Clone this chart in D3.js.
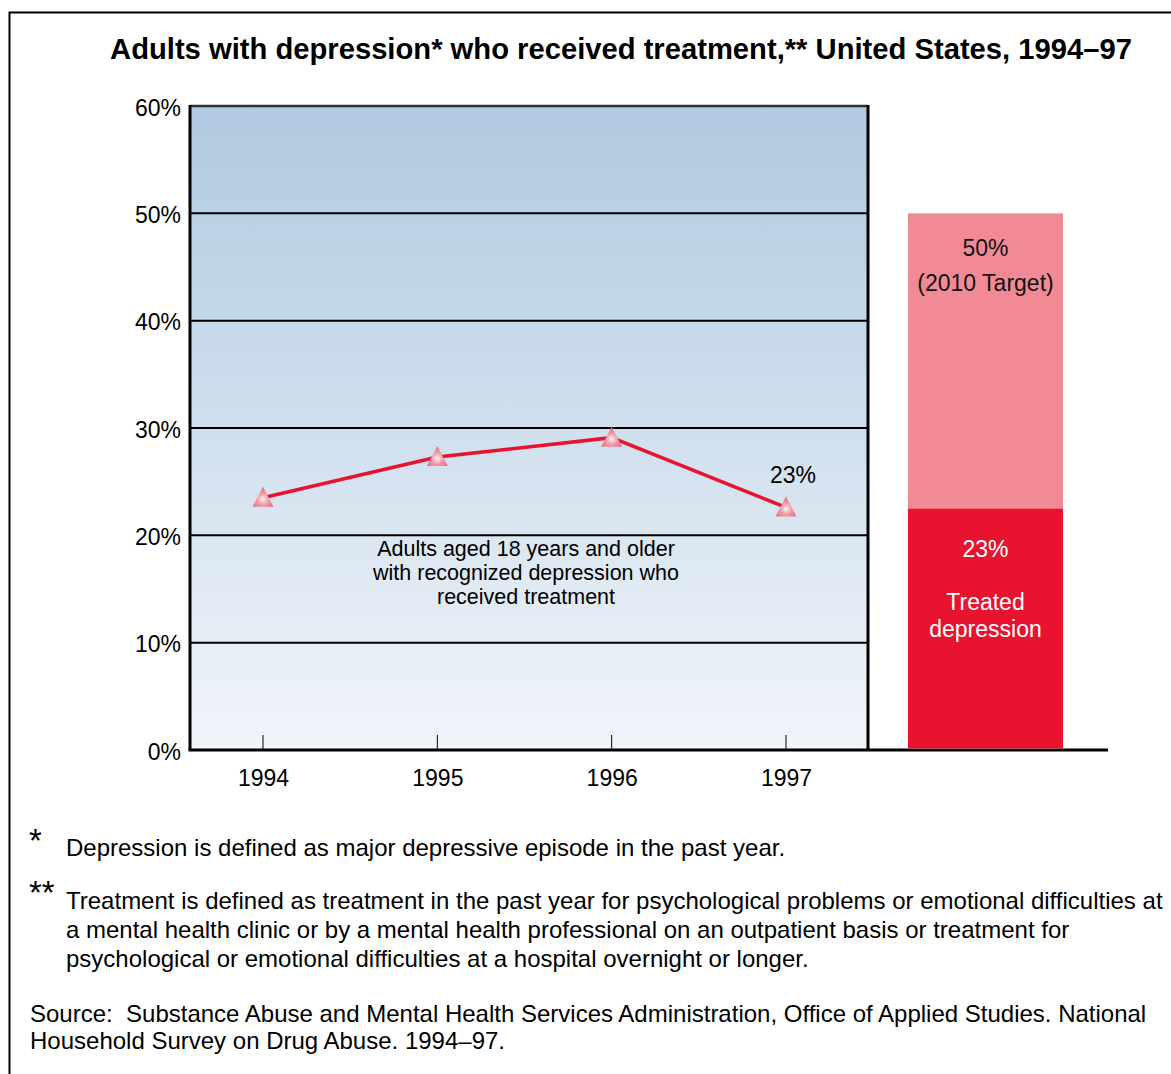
<!DOCTYPE html>
<html><head><meta charset="utf-8">
<script src="https://cdn.jsdelivr.net/npm/d3@7"></script>
<style>
body{margin:0;background:#fff;}
svg{display:block;font-family:"Liberation Sans",Arial,sans-serif;}
svg text{white-space:pre;}
</style></head>
<body><svg id="c" width="1171" height="1074"></svg>
<script>
const years = ["1994","1995","1996","1997"];
const treated = [23.5, 27.3, 29.1, 22.6];
const yTicks = [0,10,20,30,40,50,60];
const barTarget = 50;
const barTreated = 22.5;
const targetLines = ["50%","(2010 Target)"];
const treatedValue = "23%";
const treatedLines = ["Treated","depression"];
const lastLabel = "23%";
const noteLines = ["Adults aged 18 years and older","with recognized depression who","received treatment"];
const title = "Adults with depression* who received treatment,** United States, 1994\u201397";
const foot1 = "Depression is defined as major depressive episode in the past year.";
const foot2 = ["Treatment is defined as treatment in the past year for psychological problems or emotional difficulties at",
"a mental health clinic or by a mental health professional on an outpatient basis or treatment for",
"psychological or emotional difficulties at a hospital overnight or longer."];
const source = ["Source:  Substance Abuse and Mental Health Services Administration, Office of Applied Studies. National",
"Household Survey on Drug Abuse. 1994\u201397."];

const svg = d3.select("#c");
const P = {l:190, r:868, t:106, b:750};
const y = d3.scaleLinear().domain([0,60]).range([P.b,P.t]);
const x = d3.scalePoint().domain(years).range([263,786]);

const defs = svg.append("defs");
const g1 = defs.append("linearGradient").attr("id","bg").attr("x1",0).attr("y1",0).attr("x2",0).attr("y2",1);
g1.append("stop").attr("offset","0%").attr("stop-color","#afcae1");
g1.append("stop").attr("offset","100%").attr("stop-color","#f1f5fa");
const g2 = defs.append("radialGradient").attr("id","tri").attr("cx",0.5).attr("cy",0.62).attr("r",0.6);
g2.append("stop").attr("offset","0%").attr("stop-color","#fdf0f2");
g2.append("stop").attr("offset","45%").attr("stop-color","#f29cab");
g2.append("stop").attr("offset","100%").attr("stop-color","#e8667b");

// outer border
svg.append("path").attr("d","M9.5,1074 V12.5 H1171").attr("fill","none").attr("stroke","#000").attr("stroke-width",2);

// title
svg.append("text").attr("x",621).attr("y",59).attr("text-anchor","middle")
  .attr("font-weight","bold").attr("font-size",29.2).text(title);

// panel
svg.append("rect").attr("x",P.l).attr("y",P.t).attr("width",P.r-P.l).attr("height",P.b-P.t).attr("fill","url(#bg)");
svg.append("g").selectAll("line").data(yTicks.filter(d=>d>0&&d<60)).join("line")
  .attr("x1",P.l).attr("x2",P.r).attr("y1",d=>y(d)).attr("y2",d=>y(d))
  .attr("stroke","#000").attr("stroke-width",2);
svg.append("line").attr("x1",P.l).attr("x2",P.r).attr("y1",P.t).attr("y2",P.t).attr("stroke","#333").attr("stroke-width",2.5);
svg.append("path").attr("d",`M${P.l},${P.t-1} V${P.b} M${P.r},${P.t-1} V${P.b}`).attr("stroke","#000").attr("stroke-width",3);

// y axis labels
const yAxis = d3.axisLeft(y).tickValues(yTicks).tickSize(0).tickPadding(9).tickFormat(d=>d+"%");
const ya = svg.append("g").attr("transform",`translate(${P.l},0)`).call(yAxis);
ya.select(".domain").remove();
ya.selectAll("text").attr("font-size",23).attr("font-family","Liberation Sans, Arial, sans-serif").attr("fill","#000").attr("dy","0.4em");

// x axis
const xAxis = d3.axisBottom(x).tickSize(0).tickPadding(20);
const xa = svg.append("g").attr("transform",`translate(0,${P.b})`).call(xAxis);
xa.select(".domain").remove();
xa.selectAll("text").attr("font-size",23).attr("font-family","Liberation Sans, Arial, sans-serif").attr("fill","#000");
svg.append("g").selectAll("line").data(years).join("line")
  .attr("x1",d=>x(d)).attr("x2",d=>x(d)).attr("y1",P.b-15).attr("y2",P.b).attr("stroke","#000").attr("stroke-width",1);

// bottom line
svg.append("line").attr("x1",P.l-1.5).attr("x2",1108).attr("y1",P.b).attr("y2",P.b).attr("stroke","#000").attr("stroke-width",3);

// bar
const bx = 908, bw = 155, bc = bx+bw/2;
svg.append("rect").attr("x",bx).attr("width",bw).attr("y",y(barTarget)).attr("height",y(barTreated)-y(barTarget)).attr("fill","#f28a96");
svg.append("rect").attr("x",bx).attr("width",bw).attr("y",y(barTreated)).attr("height",P.b-1.5-y(barTreated)).attr("fill","#e8132f");
svg.append("g").selectAll("text").data(targetLines).join("text")
  .attr("x",bc).attr("y",(d,i)=>256+i*35).attr("text-anchor","middle").attr("font-size",23).attr("fill","#111").text(d=>d);
svg.append("text").attr("x",bc).attr("y",557).attr("text-anchor","middle").attr("font-size",23).attr("fill","#fff").text(treatedValue);
svg.append("g").selectAll("text").data(treatedLines).join("text")
  .attr("x",bc).attr("y",(d,i)=>610+i*27).attr("text-anchor","middle").attr("font-size",23).attr("fill","#fff").text(d=>d);

// line
const line = d3.line().x((d,i)=>x(years[i])).y(d=>y(d));
svg.append("path").datum(treated).attr("d",line).attr("fill","none").attr("stroke","#e8132f").attr("stroke-width",3.5);
svg.append("g").selectAll("path").data(treated).join("path")
  .attr("transform",(d,i)=>`translate(${x(years[i])},${y(d)})`)
  .attr("d","M0,-11 L10.5,9 L-10.5,9 Z").attr("fill","url(#tri)");

svg.append("text").attr("x",793).attr("y",483).attr("text-anchor","middle").attr("font-size",23).text(lastLabel);
svg.append("g").selectAll("text").data(noteLines).join("text")
  .attr("x",526).attr("y",(d,i)=>556+i*24).attr("text-anchor","middle").attr("font-size",21.5).text(d=>d);

// footnotes
const fs = 24;
svg.append("text").attr("x",29).attr("y",852).attr("font-size",33).text("*");
svg.append("text").attr("x",66).attr("y",856).attr("font-size",fs).text(foot1);
svg.append("text").attr("x",29).attr("y",904).attr("font-size",33).text("**");
svg.append("g").selectAll("text").data(foot2).join("text")
  .attr("x",66).attr("y",(d,i)=>909+i*29).attr("font-size",fs).text(d=>d);
svg.append("g").selectAll("text").data(source).join("text")
  .attr("x",30).attr("y",(d,i)=>1022+i*27).attr("font-size",fs).text(d=>d);
</script></body></html>
